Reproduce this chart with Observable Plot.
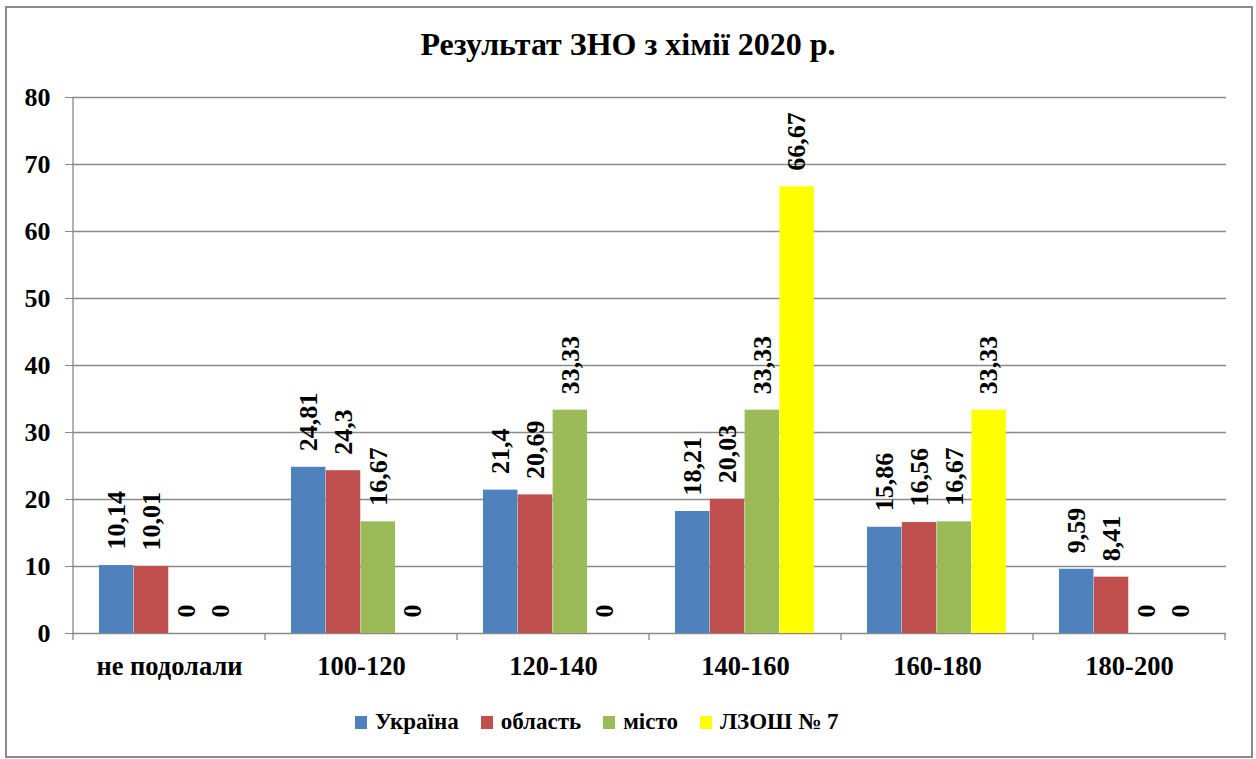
<!DOCTYPE html>
<html>
<head>
<meta charset="utf-8">
<script src="https://cdn.jsdelivr.net/npm/d3@7"></script>
<script src="https://cdn.jsdelivr.net/npm/@observablehq/plot@0.6"></script>
<style>
  body { margin: 0; background: #fff; }
  #wrap { position: relative; width: 1256px; height: 759px; overflow: hidden;
          font-family: "Liberation Serif", "Times New Roman", serif; font-weight: bold; color: #000; }
  #border { position: absolute; left: 5px; top: 6px; width: 1248px; height: 752px;
            border: 2px solid #8a8a8a; box-sizing: border-box; }
  #title { position: absolute; top: 26px; left: 0; width: 1256px; text-align: center; font-size: 32px; line-height: normal; }
  #chart { position: absolute; left: 0; top: 0; }
  #legend { position: absolute; left: 355px; top: 709px; display: flex; align-items: center; font-size: 23px; line-height: normal; }
  .item { display: flex; align-items: center; margin-right: 22px; }
  .sw { width: 12px; height: 13px; margin-right: 8px; }
</style>
</head>
<body>
<div id="wrap">
  <div id="border"></div>
  <div id="chart"></div>
  <div id="title">Результат ЗНО з хімії 2020 р.</div>
  <div id="legend"></div>
</div>
<script>
const categories = ["не подолали", "100-120", "120-140", "140-160", "160-180", "180-200"];
const seriesNames = ["Україна", "область", "місто", "ЛЗОШ № 7"];
const ukraine = [10.14, 24.81, 21.4, 18.21, 15.86, 9.59];
const oblast  = [10.01, 24.3, 20.69, 20.03, 16.56, 8.41];
const misto   = [0, 16.67, 33.33, 33.33, 16.67, 0];
const school  = [0, 0, 0, 66.67, 33.33, 0];
const yTicks = [0, 10, 20, 30, 40, 50, 60, 70, 80];
const colors = ["#4F81BD", "#C0504D", "#9BBB59", "#FFFF00"];

const seriesValues = [ukraine, oblast, misto, school];
const data = [];
seriesValues.forEach((vals, j) => vals.forEach((v, i) => data.push({cat: categories[i], s: seriesNames[j], j, v})));

const W = 1256, H = 759, ML = 72, MR = 30, MT = 97, MB = 126;
const band = (W - ML - MR) / categories.length;
const barW = 34.8, groupOff = 26;
const fmt = v => String(v).replace(".", ",");
const font = {fontFamily: '"Liberation Serif", "Times New Roman", serif', fontWeight: "bold"};

const marks = [
  Plot.gridY(yTicks, {stroke: "#8a8a8a", strokeOpacity: 1, strokeWidth: 1.3}),
  Plot.axisY({ticks: yTicks, tickSize: 7, tickPadding: 15, stroke: "#8a8a8a", fill: "#000", fontSize: 26, ...font}),
  Plot.axisX({tickSize: 0, tickPadding: 23, fill: "#000", fontSize: 26.5, ...font})
];
seriesNames.forEach((name, j) => {
  const sub = data.filter(d => d.j === j);
  marks.push(Plot.barY(sub, {
    x: "cat", y: "v", fill: colors[j],
    insetLeft: groupOff + j * barW, insetRight: band - groupOff - (j + 1) * barW
  }));
  marks.push(Plot.text(sub, {
    x: "cat", y: "v", text: d => fmt(d.v), rotate: -90, textAnchor: "start",
    dx: groupOff + (j + 0.5) * barW - band / 2, dy: -16, fontSize: 26, fill: "#000", ...font
  }));
});

const plot = Plot.plot({
  width: W, height: H, marginLeft: ML, marginRight: MR, marginTop: MT, marginBottom: MB,
  style: {background: "transparent", overflow: "visible"},
  x: {type: "band", domain: categories, padding: 0, label: null},
  y: {domain: [0, 80], label: null},
  marks
});
document.getElementById("chart").appendChild(plot);

// category boundary ticks and left axis line, positioned through Plot's scales
const xs = plot.scale("x"), ys = plot.scale("y");
const svg = d3.select(plot);
const y0 = ys.apply(0), yTop = ys.apply(80);
const edges = categories.map(c => xs.apply(c)).concat([xs.apply(categories[categories.length - 1]) + xs.bandwidth]);
svg.append("g").selectAll("line").data(edges).join("line")
  .attr("x1", d => d).attr("x2", d => d).attr("y1", y0).attr("y2", y0 + 7)
  .attr("stroke", "#8a8a8a").attr("stroke-width", 1.3);
svg.append("line").attr("x1", edges[0]).attr("x2", edges[0]).attr("y1", yTop).attr("y2", y0)
  .attr("stroke", "#8a8a8a").attr("stroke-width", 1.3);

const legend = d3.select("#legend");
seriesNames.forEach((name, j) => {
  const it = legend.append("div").attr("class", "item");
  it.append("div").attr("class", "sw").style("background", colors[j]);
  it.append("span").text(name);
});
</script>
</body>
</html>
